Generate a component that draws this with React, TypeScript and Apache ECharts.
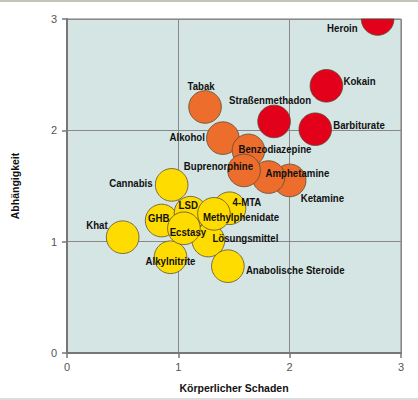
import React, { useEffect, useRef } from "react";
import * as echarts from "echarts";

// Drugs (drawing order: later ones on top)
const drugNames = [
  "Khat", "Cannabis", "GHB", "LSD", "4-MTA", "Lösungsmittel", "Alkylnitrite", "Ecstasy",
  "Methylphenidate", "Anabolische Steroide", "Tabak", "Alkohol", "Benzodiazepine", "Ketamine",
  "Amphetamine", "Buprenorphine", "Straßenmethadon", "Barbiturate", "Kokain", "Heroin",
];
// Körperlicher Schaden
const physicalHarm = [
  0.50, 0.94, 0.85, 1.11, 1.46, 1.27, 0.93, 1.05,
  1.32, 1.445, 1.24, 1.40, 1.63, 2.00,
  1.81, 1.59, 1.86, 2.23, 2.33, 2.79,
];
// Abhängigkeit
const dependence = [
  1.04, 1.51, 1.19, 1.26, 1.30, 1.01, 0.86, 1.12,
  1.25, 0.78, 2.21, 1.93, 1.82, 1.55,
  1.58, 1.64, 2.08, 2.01, 2.40, 3.00,
];
// Colour group: 0 = yellow, 1 = orange, 2 = red
const harmGroup = [
  0, 0, 0, 0, 0, 0, 0, 0,
  0, 0, 1, 1, 1, 1,
  1, 1, 2, 2, 2, 2,
];
const xTicks = [0, 1, 2, 3];
const yTicks = [0, 1, 2, 3];

const groupColors = ["#ffdc00", "#ec6d2c", "#e2001a"];

// label placement: [align, dx, dy] relative to bubble centre
const labelPlacement: Array<[string, number, number]> = [
  ["right", -15, -13], // Khat
  ["right", -19, -2], // Cannabis
  ["center", -3, -3], // GHB
  ["left", -12, -8], // LSD
  ["left", 3, -7], // 4-MTA
  ["left", 4, -3], // Lösungsmittel
  ["center", 0, 3], // Alkylnitrite
  ["center", 4, 3], // Ecstasy
  ["left", -11, 3], // Methylphenidate
  ["left", 18, 4], // Anabolische Steroide
  ["center", -4, -21], // Tabak
  ["right", -18, -1], // Alkohol
  ["left", -10, -2], // Benzodiazepine
  ["left", 11, 17], // Ketamine
  ["left", -3, -4], // Amphetamine
  ["right", 9, -5], // Buprenorphine
  ["center", -4, -22], // Straßenmethadon
  ["left", 18, -5], // Barbiturate
  ["left", 17, -5], // Kokain
  ["right", -20, 9], // Heroin
];

const FONT = "'Liberation Sans', Arial, sans-serif";
const LABEL_SCALE = 0.84;
const R = 16.3;

export default function App() {
  const ref = useRef<HTMLDivElement>(null);
  useEffect(() => {
    document.body.style.margin = "0";
    if (!ref.current) return;
    const chart = echarts.init(ref.current, undefined, { renderer: "svg" });
    const bubbleData = drugNames.map((n, i) => ({
      name: n,
      value: [physicalHarm[i], dependence[i], harmGroup[i]],
    }));
    const labelData = drugNames.map((n, i) => ({
      name: n,
      value: [physicalHarm[i], dependence[i]],
    }));
    chart.setOption({
      animation: false,
      grid: {
        left: 67,
        top: 19,
        right: 17,
        bottom: 47,
        show: true,
        backgroundColor: "#d5e5e3",
        borderColor: "#777",
        borderWidth: 1,
      },
      xAxis: {
        type: "value",
        min: 0,
        max: 3,
        interval: 1,
        name: "Körperlicher Schaden",
        nameLocation: "middle",
        nameGap: 29,
        nameTextStyle: { fontFamily: FONT, fontWeight: "bold", fontSize: 10.5, color: "#111" },
        axisLine: { show: true, lineStyle: { color: "#777", width: 2 } },
        axisTick: { show: true, length: 5, lineStyle: { color: "#777", width: 1.5 } },
        axisLabel: {
          color: "#555",
          fontSize: 11,
          fontFamily: FONT,
          margin: 8,
          formatter: (v: number) => (xTicks.includes(v) ? String(v) : ""),
        },
        splitLine: { show: true, lineStyle: { color: "#888", width: 1 } },
      },
      yAxis: {
        type: "value",
        min: 0,
        max: 3,
        interval: 1,
        name: "Abhängigkeit",
        nameLocation: "middle",
        nameGap: 47,
        nameTextStyle: { fontFamily: FONT, fontWeight: "bold", fontSize: 10.5, color: "#111" },
        axisLine: { show: true, lineStyle: { color: "#777", width: 2 } },
        axisTick: { show: true, length: 5, lineStyle: { color: "#777", width: 1.5 } },
        axisLabel: {
          color: "#555",
          fontSize: 11,
          fontFamily: FONT,
          margin: 10,
          formatter: (v: number) => (yTicks.includes(v) ? String(v) : ""),
        },
        splitLine: { show: true, lineStyle: { color: "#888", width: 1 } },
      },
      graphic: [
        { type: "line", shape: { x1: 0, y1: 1, x2: 418, y2: 1 }, style: { stroke: "#c4c4bc", lineWidth: 2 } },
        { type: "line", shape: { x1: 0, y1: 399, x2: 418, y2: 399 }, style: { stroke: "#cfcfcf", lineWidth: 1.5 } },
      ],
      series: [
        {
          type: "custom",
          data: bubbleData,
          encode: { x: 0, y: 1 },
          z: 2,
          renderItem: (params: any, api: any) => {
            const p = api.coord([api.value(0), api.value(1)]);
            const g = api.value(2) as number;
            // plot-area bounds from the axis extents
            const tl = api.coord([xTicks[0], yTicks[yTicks.length - 1]]);
            const br = api.coord([xTicks[xTicks.length - 1], yTicks[0]]);
            const left = Math.min(tl[0], br[0]);
            const right = Math.max(tl[0], br[0]);
            const top = Math.min(tl[1], br[1]);
            const bottom = Math.max(tl[1], br[1]);
            const pts: number[][] = [];
            const N = 72;
            for (let k = 0; k < N; k++) {
              const a = (k / N) * Math.PI * 2;
              let px = p[0] + R * Math.cos(a);
              let py = p[1] + R * Math.sin(a);
              px = Math.min(Math.max(px, left), right);
              py = Math.min(Math.max(py, top), bottom);
              pts.push([px, py]);
            }
            return {
              type: "polygon",
              shape: { points: pts },
              style: { fill: groupColors[g], stroke: "#5b4a34", lineWidth: 0.8 },
            };
          },
        },
        {
          type: "custom",
          data: labelData,
          encode: { x: 0, y: 1 },
          z: 3,
          renderItem: (params: any, api: any) => {
            const i = params.dataIndex;
            const p = api.coord([api.value(0), api.value(1)]);
            const [align, dx, dy] = labelPlacement[i];
            return {
              type: "text",
              x: p[0] + dx,
              y: p[1] + dy,
              scaleX: LABEL_SCALE,
              style: {
                text: drugNames[i],
                x: 0,
                y: 0,
                align,
                verticalAlign: "middle",
                font: `bold 11.5px ${FONT}`,
                fill: "#111",
              },
            };
          },
        },
      ],
    });
    return () => chart.dispose();
  }, []);
  return <div ref={ref} style={{ width: 418, height: 400 }} />;
}
